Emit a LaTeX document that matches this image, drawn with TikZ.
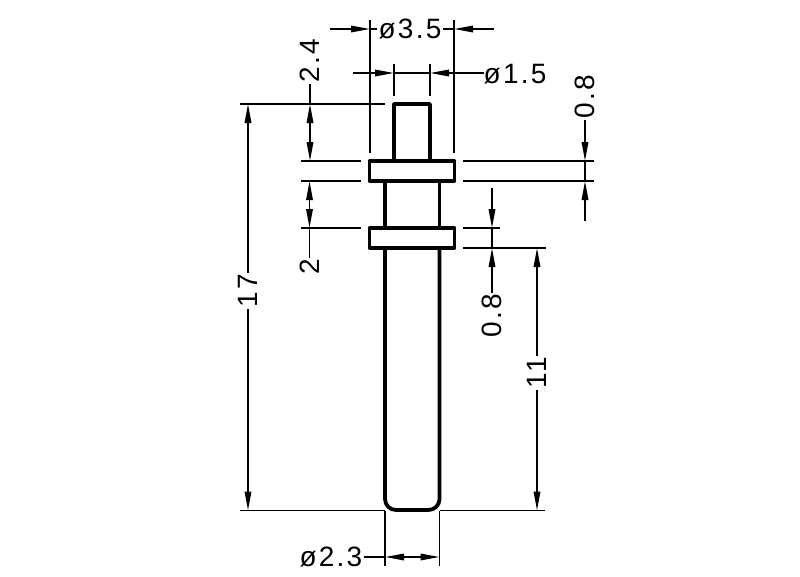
\documentclass[tikz,border=0pt]{standalone}
\usepackage{fontspec}
\setmainfont{Liberation Sans}[LetterSpace=8]
\usetikzlibrary{arrows.meta}

\begin{document}
\begin{tikzpicture}[
  x=1pt, y=-1pt,
  pin/.style={draw, line width=3.8pt, line join=round},
  dimline/.style={draw, line width=1.7pt},
  dimtip/.style={dimline, -{Stealth[length=19pt,width=6.5pt,inset=0pt]}},
  dimboth/.style={dimline, {Stealth[length=19pt,width=6.5pt,inset=0pt]}-{Stealth[length=19pt,width=6.5pt,inset=0pt]}},
  dimtext/.style={font=\fontsize{28}{28}\selectfont, inner sep=1.5pt},
  sidetext/.style={dimtext, rotate=90}
]
\path[use as bounding box] (0,0) rectangle (800,576);

% pin outline
\draw[pin] (394,161) -- (394,104) -- (430,104) -- (430,161);
\draw[pin] (369.5,161) rectangle (454.5,181);
\draw[pin] (385,181) -- (385,228);
\draw[pin] (439.5,181) -- (439.5,228);
\draw[pin] (369.5,228) rectangle (454.5,248);
\draw[pin, rounded corners=11pt] (385,248) -- (385,510) -- (439.5,510) -- (439.5,248);

% extension lines
\coordinate (topL) at (240,104);
\coordinate (topR) at (385,104);
\coordinate (baseL) at (240,510.5);
\coordinate (baseA) at (385,510.5);
\coordinate (baseB) at (439.5,510.5);
\coordinate (baseR) at (545,510.5);
\coordinate (f1aL) at (301,161);
\coordinate (f1aM) at (361,161);
\coordinate (f1bL) at (301,181);
\coordinate (f1bM) at (361,181);
\coordinate (f2aL) at (301,228);
\coordinate (f2aM) at (361,228);
\coordinate (f1aN) at (463,161);
\coordinate (f1aR) at (594,161);
\coordinate (f1bN) at (463,181);
\coordinate (f1bR) at (594,181);
\coordinate (f2aN) at (463,228);
\coordinate (f2aR) at (500,228);
\coordinate (f2bN) at (463,248);
\coordinate (f2bR) at (546,248);
\draw[dimline] (topL) -- (topR);
\draw[dimline] (baseL) -- (baseA);
\draw[dimline] (baseB) -- (baseR);
\draw[dimline] (f1aL) -- (f1aM);
\draw[dimline] (f1bL) -- (f1bM);
\draw[dimline] (f2aL) -- (f2aM);
\draw[dimline] (f1aN) -- (f1aR);
\draw[dimline] (f1bN) -- (f1bR);
\draw[dimline] (f2aN) -- (f2aR);
\draw[dimline] (f2bN) -- (f2bR);

% dia 3.5
\node[dimtext] (d35) at (410,29) {ø3.5};
\coordinate (d35a) at (370,20);
\coordinate (d35b) at (370,153);
\coordinate (d35c) at (454,20);
\coordinate (d35d) at (454,153);
\coordinate (d35e) at (370,29);
\coordinate (d35f) at (454,29);
\coordinate (d35g) at (330,29);
\coordinate (d35h) at (494,29);
\draw[dimline] (d35a) -- (d35b);
\draw[dimline] (d35c) -- (d35d);
\draw[dimtip] (d35g) -- (d35e);
\draw[dimtip] (d35h) -- (d35f);
\draw[dimline] (d35e) -- (d35.west);
\draw[dimline] (d35f) -- (d35.east);

% dia 1.5
\node[dimtext, anchor=west] (d15) at (482,74) {ø1.5};
\coordinate (d15a) at (394,64);
\coordinate (d15b) at (394,96);
\coordinate (d15c) at (430,64);
\coordinate (d15d) at (430,96);
\coordinate (d15e) at (394,73);
\coordinate (d15f) at (430,73);
\coordinate (d15g) at (353,73);
\coordinate (d15h) at (484,73);
\draw[dimline] (d15a) -- (d15b);
\draw[dimline] (d15c) -- (d15d);
\draw[dimtip] (d15g) -- (d15e);
\draw[dimtip] (d15h) -- (d15f);
\draw[dimline] (d15e) -- (d15f);

% dia 2.3
\node[dimtext, anchor=east] (d23) at (364,557) {ø2.3};
\coordinate (d23a) at (385,510.5);
\coordinate (d23b) at (385,566);
\coordinate (d23c) at (439.5,510.5);
\coordinate (d23d) at (439.5,566);
\coordinate (d23e) at (385,557);
\coordinate (d23f) at (439.5,557);
\draw[dimline] (d23a) -- (d23b);
\draw[dimline] (d23c) -- (d23d);
\draw[dimline] (d23.east) -- (d23e);
\draw[dimboth] (d23e) -- (d23f);

% 2.4
\node[sidetext] (h24) at (310,61) {2.4};
\coordinate (h24a) at (310,104);
\coordinate (h24b) at (310,161);
\draw[dimline] (h24.west) -- (h24a);
\draw[dimboth] (h24a) -- (h24b);

% 2
\node[sidetext] (h2) at (309.5,267) {2};
\coordinate (h2a) at (309.5,181);
\coordinate (h2b) at (309.5,228);
\draw[dimboth] (h2a) -- (h2b);
\draw[dimline] (h2b) -- (h2.east);

% upper 0.8
\node[sidetext] (h08a) at (585,97) {0.8};
\coordinate (h08aa) at (585,161);
\coordinate (h08ab) at (585,181);
\coordinate (h08ac) at (585,221);
\draw[dimtip] (h08a.west) -- (h08aa);
\draw[dimtip] (h08ac) -- (h08ab);
\draw[dimline] (h08aa) -- (h08ab);

% lower 0.8
\node[sidetext] (h08b) at (492,316) {0.8};
\coordinate (h08ba) at (492,188);
\coordinate (h08bb) at (492,228);
\coordinate (h08bc) at (492,248);
\draw[dimtip] (h08ba) -- (h08bb);
\draw[dimtip] (h08b.east) -- (h08bc);
\draw[dimline] (h08bb) -- (h08bc);

% 11
\node[sidetext] (h11) at (537,373) {11};
\coordinate (h11a) at (537,248);
\coordinate (h11b) at (537,510.5);
\draw[dimtip] (h11.east) -- (h11a);
\draw[dimtip] (h11.west) -- (h11b);

% 17
\node[sidetext] (h17) at (248,291) {17};
\coordinate (h17a) at (248,104);
\coordinate (h17b) at (248,510.5);
\draw[dimtip] (h17.east) -- (h17a);
\draw[dimtip] (h17.west) -- (h17b);
\end{tikzpicture}
\end{document}
